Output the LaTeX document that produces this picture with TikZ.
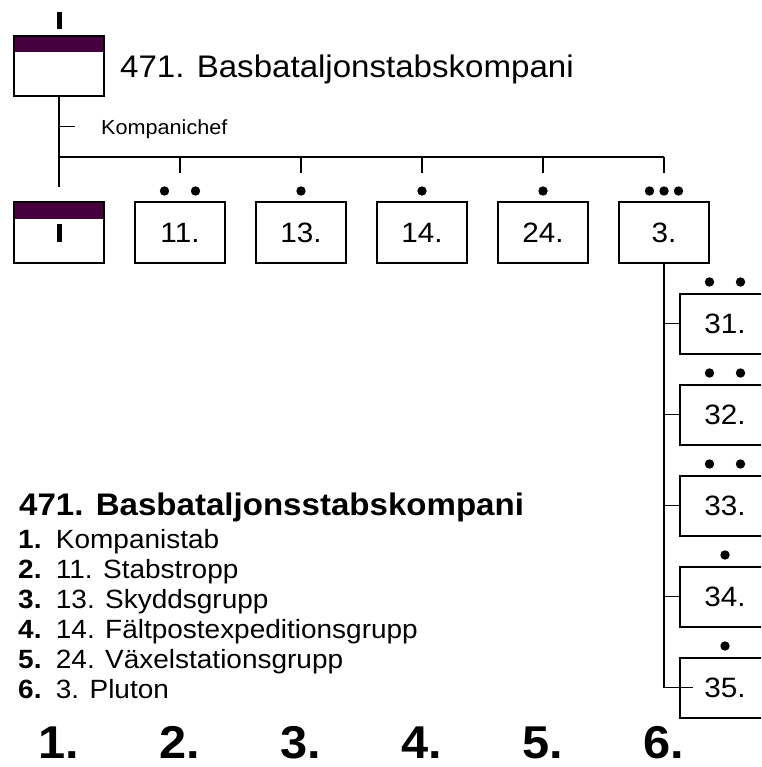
\documentclass[tikz,border=0pt]{standalone}
\usepackage{fontspec}
\setmainfont{Liberation Sans}[FakeStretch=1.06]
\newfontfamily\legendfont{Liberation Sans}[FakeStretch=1.06]
\definecolor{hqpurple}{RGB}{70,0,62}
\tikzstyle{unit} = [draw, line width=2pt, minimum width=90pt, minimum height=60pt, inner sep=0pt, font=\fontsize{28}{30}\selectfont]
\tikzstyle{staff} = [unit, path picture={\fill[hqpurple] (path picture bounding box.north west) rectangle ([yshift=-16pt]path picture bounding box.north east);}]
\tikzstyle{line} = [line width=1.3pt]
\tikzstyle{legend} = [anchor=base west, inner sep=0pt, font=\legendfont\fontsize{26.4}{30}\selectfont]
\tikzstyle{colnum} = [anchor=base, inner sep=0pt, font=\bfseries\fontsize{46}{48}\selectfont]

\begin{document}
\begin{tikzpicture}[x=1pt,y=-1pt]
	  \useasboundingbox (0,0) rectangle (761,767);
	  \clip (0,0) rectangle (761,767);

	  % company
	  \node (hq) at (59,66.5) [staff] {};
	  \fill (56.5,12) rectangle (61.5,29);
	  \node (title) at (120,78) [anchor=base west, inner sep=0pt, font=\fontsize{31.2}{34}\selectfont] {471. Basbataljonstabskompani};
	  \coordinate (chef) at (59,126.5);
	  \coordinate (chefend) at (75,126.5);
	  \node (kchef) at (101,134.5) [anchor=base west, inner sep=0pt, font=\fontsize{20.4}{24}\selectfont] {Kompanichef};

	  % first row
	  \node (kstab) at (59,232.5) [staff] {\rule{5pt}{18pt}};
	  \node (s11) at (180,232.5) [unit] {11.};
	  \node (s13) at (301,232.5) [unit] {13.};
	  \node (s14) at (422,232.5) [unit] {14.};
	  \node (s24) at (543,232.5) [unit] {24.};
	  \node (p3) at (664,232.5) [unit] {3.};

	  % pluton
	  \node (g31) at (725,323.5) [unit] {31.};
	  \node (g32) at (725,414.5) [unit] {32.};
	  \node (g33) at (725,505.5) [unit] {33.};
	  \node (g34) at (725,596.5) [unit] {34.};
	  \node (g35) at (725,687.5) [unit] {35.};

	  \coordinate (stabtop) at (59,187);
	  \coordinate (busw) at (59,157);
	  \coordinate (buse) at (664,157);

	  \draw [line] (hq.south) -- (stabtop);
	  \draw [line] (chef) -- (chefend);
	  \draw [line] (busw) -- (buse);
	  \draw [line] (s11.north |- busw) -- ([yshift=28pt]s11.north);
	  \draw [line] (s13.north |- busw) -- ([yshift=28pt]s13.north);
	  \draw [line] (s14.north |- busw) -- ([yshift=28pt]s14.north);
	  \draw [line] (s24.north |- busw) -- ([yshift=28pt]s24.north);
	  \draw [line] (p3.north |- busw) -- ([yshift=28pt]p3.north);
	  \draw [line] (p3.south) -- (p3.south |- g35.west);
	  \draw [line] (p3.south |- g31.west) -- (g31.west);
	  \draw [line] (p3.south |- g32.west) -- (g32.west);
	  \draw [line] (p3.south |- g33.west) -- (g33.west);
	  \draw [line] (p3.south |- g34.west) -- (g34.west);
	  \draw [line] (p3.south |- g35.west) -- ([xshift=14pt]g35.west);

	  % size marks
	  \fill ([shift={(-15.5pt,10.5pt)}]s11.north) circle (4.7pt);
	  \fill ([shift={(15.5pt,10.5pt)}]s11.north) circle (4.7pt);
	  \fill ([yshift=10.5pt]s13.north) circle (4.7pt);
	  \fill ([yshift=10.5pt]s14.north) circle (4.7pt);
	  \fill ([yshift=10.5pt]s24.north) circle (4.7pt);
	  \fill ([shift={(-14.5pt,10.5pt)}]p3.north) circle (4.7pt);
	  \fill ([yshift=10.5pt]p3.north) circle (4.7pt);
	  \fill ([shift={(14.5pt,10.5pt)}]p3.north) circle (4.7pt);
	  \fill ([shift={(-15.5pt,10.5pt)}]g31.north) circle (4.7pt);
	  \fill ([shift={(15.5pt,10.5pt)}]g31.north) circle (4.7pt);
	  \fill ([shift={(-15.5pt,10.5pt)}]g32.north) circle (4.7pt);
	  \fill ([shift={(15.5pt,10.5pt)}]g32.north) circle (4.7pt);
	  \fill ([shift={(-15.5pt,10.5pt)}]g33.north) circle (4.7pt);
	  \fill ([shift={(15.5pt,10.5pt)}]g33.north) circle (4.7pt);
	  \fill ([yshift=10.5pt]g34.north) circle (4.7pt);
	  \fill ([yshift=10.5pt]g35.north) circle (4.7pt);

	  % legend
	  \node (legtitle) at (19,515) [legend, font=\legendfont\bfseries\fontsize{31.2}{34}\selectfont] {471. Basbataljonsstabskompani};
	  \node (leg1) at (18,548) [legend] {\textbf{1.}\hspace{4pt} Kompanistab};
	  \node (leg2) at (18,578) [legend] {\textbf{2.}\hspace{4pt} 11. Stabstropp};
	  \node (leg3) at (18,608) [legend] {\textbf{3.}\hspace{4pt} 13. Skyddsgrupp};
	  \node (leg4) at (18,638) [legend] {\textbf{4.}\hspace{4pt} 14. Fältpostexpeditionsgrupp};
	  \node (leg5) at (18,668) [legend] {\textbf{5.}\hspace{4pt} 24. Växelstationsgrupp};
	  \node (leg6) at (18,698) [legend] {\textbf{6.}\hspace{4pt} 3. Pluton};

	  \node (n1) at (59,758) [colnum] {1.};
	  \node (n2) at (180,758) [colnum] {2.};
	  \node (n3) at (301,758) [colnum] {3.};
	  \node (n4) at (422,758) [colnum] {4.};
	  \node (n5) at (543,758) [colnum] {5.};
	  \node (n6) at (664,758) [colnum] {6.};
\end{tikzpicture}
\end{document}
